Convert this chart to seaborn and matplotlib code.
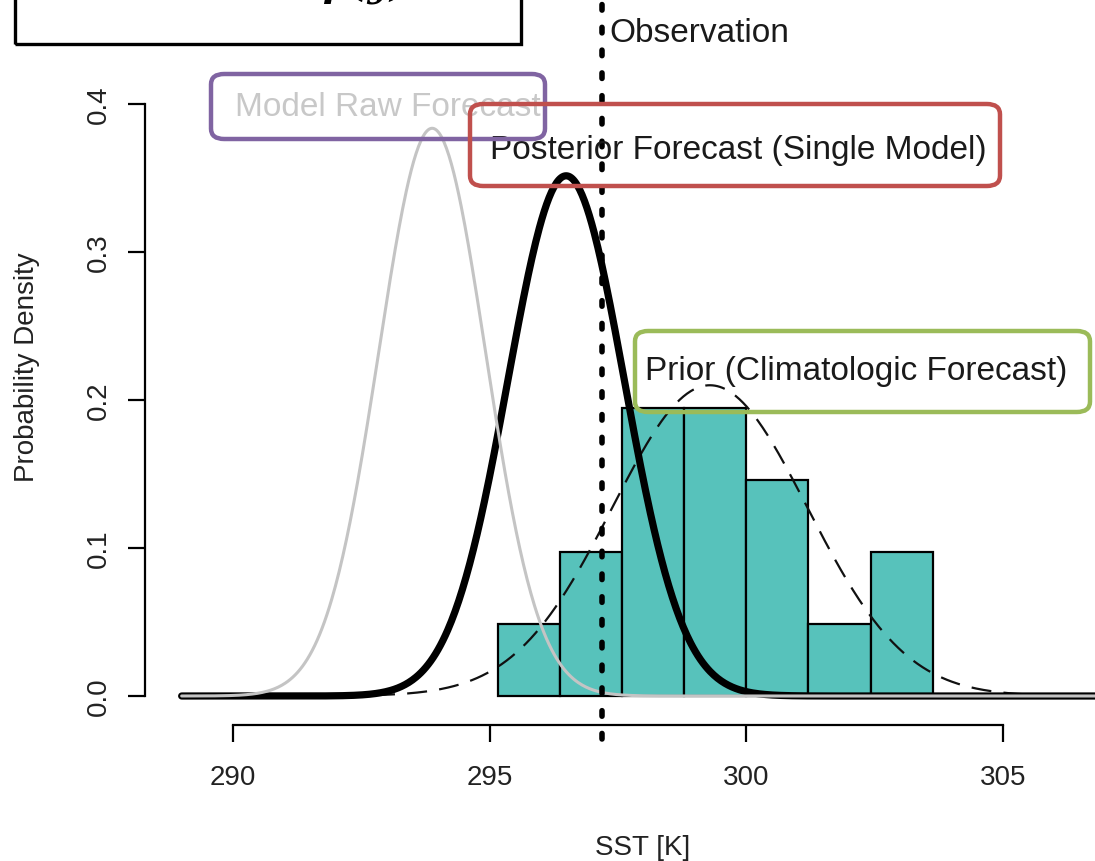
import numpy as np
import pandas as pd
import seaborn as sns
import matplotlib
matplotlib.use("Agg")
import matplotlib.pyplot as plt
from matplotlib.patches import FancyBboxPatch, Rectangle

# ---------------- data ----------------
bin_edges = [295.16, 296.37, 297.58, 298.79, 300.00, 301.21, 302.42, 303.63]
bin_density = [0.0487, 0.0974, 0.1947, 0.1947, 0.1460, 0.0487, 0.0974]

raw_mean, raw_sd = 293.88, 1.04          # Model Raw Forecast
post_mean, post_sd = 296.49, 1.135       # Posterior Forecast (Single Model)
prior_mean, prior_sd = 299.29, 1.90      # Prior (Climatologic Forecast)
observation = 297.19

x_ticks = [290, 295, 300, 305]
x_tick_labels = ["290", "295", "300", "305"]
y_ticks = [0.0, 0.1, 0.2, 0.3, 0.4]
y_tick_labels = ["0.0", "0.1", "0.2", "0.3", "0.4"]

x_label = "SST [K]"
y_label = "Probability Density"
label_raw = "Model Raw Forecast"
label_post = "Posterior Forecast (Single Model)"
label_prior = "Prior (Climatologic Forecast)"
label_obs = "Observation"

# ---------------- style ----------------
sns.set_theme(style="white")
plt.rcParams["font.family"] = ["Liberation Sans", "DejaVu Sans"]

W, H = 1095, 862
fig = plt.figure(figsize=(W / 100, H / 100), dpi=100)
ax = fig.add_axes([0, 0, 1, 1])
ax.patch.set_visible(False)


def fx(px):
    return px / W


def fy(py):
    return 1 - py / H


# histogram
centers = [(a + b) / 2 for a, b in zip(bin_edges[:-1], bin_edges[1:])]
hist_df = pd.DataFrame({"x": centers, "w": bin_density})
sns.histplot(data=hist_df, x="x", weights="w", bins=bin_edges, ax=ax,
             color="#57C2BB", edgecolor="black", linewidth=1.6, alpha=1,
             zorder=2)


def npdf(x, m, s):
    return np.exp(-0.5 * ((x - m) / s) ** 2) / (s * np.sqrt(2 * np.pi))


grid = np.linspace(289.0, 308.0, 800)
curves = pd.DataFrame({
    "x": grid,
    "raw": npdf(grid, raw_mean, raw_sd),
    "post": npdf(grid, post_mean, post_sd),
    "prior": npdf(grid, prior_mean, prior_sd),
})

sns.lineplot(data=curves, x="x", y="prior", ax=ax, color="#111111", lw=1.6,
             linestyle=(0, (9, 5.5)), zorder=3)
sns.lineplot(data=curves, x="x", y="post", ax=ax, color="black", lw=5.2,
             solid_capstyle="round", zorder=4)
sns.lineplot(data=curves, x="x", y="raw", ax=ax, color="#C4C4C4", lw=2.2,
             solid_capstyle="round", zorder=5)

# observation
ax.vlines(observation, -0.029, 0.48, color="black", lw=4.0,
          linestyles=[(0, (1.0, 3.1))], capstyle="round", zorder=6)

# limits mapping
ax.set_xlim(285.461, 306.793)
ax.set_ylim(-0.11149, 0.47095)

# axes styling (R-like detached axes)
for s in ["top", "right"]:
    ax.spines[s].set_visible(False)
ax.spines["left"].set_position(("data", 288.286))
ax.spines["bottom"].set_position(("data", -0.0196))
ax.spines["left"].set_bounds(0.0, 0.4)
ax.spines["bottom"].set_bounds(290, 305)
for s in ["left", "bottom"]:
    ax.spines[s].set_color("black")
    ax.spines[s].set_linewidth(1.6)

ax.set_xticks(x_ticks)
ax.set_xticklabels(x_tick_labels)
ax.set_yticks(y_ticks)
ax.set_yticklabels(y_tick_labels, rotation=90, va="center")
ax.tick_params(axis="both", direction="out", length=12, width=1.6,
               color="black", labelsize=20, labelcolor="#222222",
               bottom=True, left=True, top=False, right=False)
ax.tick_params(axis="x", pad=16)
ax.tick_params(axis="y", pad=12)
ax.set_xlabel("")
ax.set_ylabel("")
ax.grid(False)

# axis titles
fig.text(fx(643), fy(848), x_label, ha="center", va="center",
         fontsize=20, color="#222222")
fig.text(fx(27), fy(367), y_label, ha="center", va="center", rotation=90,
         fontsize=20, color="#222222")

# annotation boxes


def rbox(x0, y0, x1, y1, color, z):
    p = FancyBboxPatch((fx(x0), fy(y1)), fx(x1 - x0), (y1 - y0) / H,
                       boxstyle="round,pad=0,rounding_size=0.012",
                       transform=fig.transFigure, facecolor="none",
                       edgecolor=color, lw=3.2, zorder=10)
    fig.patches.append(p)


rbox(211, 75, 545, 140, "#8064A2", 10)
rbox(470, 105, 1000, 187, "#C0504D", 11)
rbox(635, 332, 1090, 413, "#9BBB59", 12)

fig.text(fx(235), fy(107), label_raw, ha="left", va="center",
         fontsize=24, color="#C8C8C8")
fig.text(fx(490), fy(151), label_post, ha="left", va="center",
         fontsize=24, color="#1A1A1A")
fig.text(fx(645), fy(372), label_prior, ha="left", va="center",
         fontsize=24, color="#1A1A1A")
fig.text(fx(609), fy(34), label_obs, ha="left", va="center",
         fontsize=24, color="#1A1A1A")

# cropped title box at top-left
top_box = Rectangle((fx(15), fy(45)), fx(521 - 15), 60 / H,
                    transform=fig.transFigure, facecolor="none",
                    edgecolor="black", lw=2.4)
fig.patches.append(top_box)
fig.text(fx(322), fy(-4), "p(y)", ha="left", va="baseline",
         fontsize=28, style="italic", weight="bold",
         family=["DejaVu Serif"], color="black")

fig.savefig("out.png", dpi=100)
